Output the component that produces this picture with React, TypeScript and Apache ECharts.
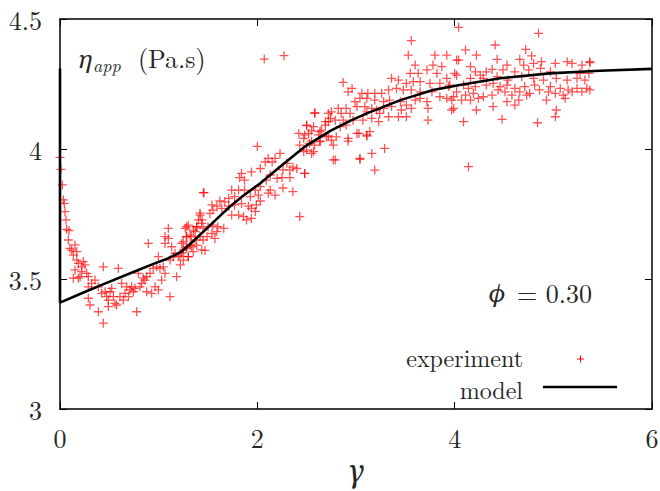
import React, { useEffect, useRef } from "react";
import * as echarts from "echarts";

const xTicks = [0, 2, 4, 6];
const yTicks = [3, 3.5, 4, 4.5];

const modelX = [0, 0, 0.25, 0.46, 0.7, 0.96, 1.1, 1.23, 1.35, 1.47, 1.6, 1.72, 1.85, 2.03, 2.23, 2.48, 2.74, 2.95, 3.11, 3.45, 3.78, 4.05, 4.46, 4.96, 5.47, 6];
const modelY = [4.31, 3.409, 3.45, 3.483, 3.52, 3.56, 3.58, 3.605, 3.645, 3.688, 3.735, 3.778, 3.818, 3.868, 3.932, 4.009, 4.07, 4.11, 4.137, 4.188, 4.227, 4.246, 4.272, 4.291, 4.301, 4.308];

const expEarly: [number, number][] = [
  [0.0, 3.968], [0.01, 3.922], [0.024, 3.862], [0.034, 3.804], [0.044, 3.791], [0.05, 3.759], [0.061, 3.727],
  [0.068, 3.691], [0.091, 3.686], [0.085, 3.65], [0.101, 3.618], [0.118, 3.611], [0.135, 3.592], [0.152, 3.631],
  [0.169, 3.605], [0.169, 3.573], [0.186, 3.56], [0.236, 3.567], [0.22, 3.547], [0.253, 3.554], [0.152, 3.535],
  [0.22, 3.528], [0.135, 3.503], [0.203, 3.509], [0.186, 3.503], [0.27, 3.522], [0.287, 3.509], [0.287, 3.47],
  [0.321, 3.483], [0.355, 3.496], [0.388, 3.47], [0.422, 3.445], [0.439, 3.547], [0.456, 3.451], [0.473, 3.432],
  [0.49, 3.419], [0.507, 3.451], [0.524, 3.464], [0.541, 3.432], [0.49, 3.394], [0.557, 3.406], [0.574, 3.4],
  [0.591, 3.541], [0.608, 3.432], [0.625, 3.483], [0.642, 3.419], [0.659, 3.445], [0.676, 3.47], [0.693, 3.432],
  [0.709, 3.458], [0.726, 3.47], [0.743, 3.451], [0.76, 3.464], [0.777, 3.374], [0.794, 3.522], [0.811, 3.47],
  [0.828, 3.483], [0.845, 3.503], [0.861, 3.496], [0.878, 3.509], [0.878, 3.451], [0.895, 3.637], [0.912, 3.522],
  [0.929, 3.445], [0.946, 3.541], [0.963, 3.47], [0.98, 3.547], [0.997, 3.458], [0.997, 3.586], [1.013, 3.541],
  [1.03, 3.496], [1.047, 3.547], [1.064, 3.522], [1.064, 3.637], [1.064, 3.663], [1.098, 3.695], [1.098, 3.656],
  [1.115, 3.573], [1.115, 3.432], [1.132, 3.624], [1.149, 3.586], [1.166, 3.599], [1.182, 3.509], [1.199, 3.586],
  [1.216, 3.592], [1.233, 3.637], [1.25, 3.612], [1.284, 3.663], [1.284, 3.701], [1.284, 3.624], [1.3, 3.586],
  [1.318, 3.669], [1.335, 3.624], [1.352, 3.688], [1.368, 3.65], [1.385, 3.701], [1.402, 3.727], [1.419, 3.753],
  [1.436, 3.714], [1.436, 3.612], [1.453, 3.832], [0.439, 3.33], [0.389, 3.374], [0.287, 3.426], [0.304, 3.4],
];

const expMid: [number, number][] = [
  [1.22, 3.554], [1.25, 3.573], [1.3, 3.586], [1.23, 3.6], [1.28, 3.618], [1.35, 3.605], [1.32, 3.63], [1.385, 3.63],
  [1.47, 3.61], [1.25, 3.644], [1.28, 3.663], [1.33, 3.663], [1.42, 3.663], [1.45, 3.65], [1.49, 3.663], [1.57, 3.656],
  [1.54, 3.675], [1.59, 3.682], [1.37, 3.682], [1.27, 3.695], [1.45, 3.695], [1.5, 3.701], [1.55, 3.707], [1.6, 3.701],
  [1.66, 3.695], [1.3, 3.707], [1.385, 3.701], [1.44, 3.727], [1.42, 3.746], [1.52, 3.752], [1.55, 3.765], [1.59, 3.78],
  [1.54, 3.785], [1.46, 3.832], [1.64, 3.772], [1.71, 3.78], [1.77, 3.785], [1.84, 3.79], [1.91, 3.78], [1.94, 3.772],
  [1.74, 3.746], [1.81, 3.746], [1.86, 3.74], [1.89, 3.727], [1.94, 3.733], [1.98, 3.76], [1.99, 3.785], [2.03, 3.8],
  [1.62, 3.8], [1.67, 3.797], [1.71, 3.81], [1.77, 3.817], [1.74, 3.842], [1.81, 3.842], [1.87, 3.842], [1.93, 3.817],
  [1.98, 3.842], [2.01, 3.823], [2.03, 3.855], [2.11, 3.83], [2.13, 3.842], [2.18, 3.823], [2.26, 3.85], [2.36, 3.836],
  [1.82, 3.89], [1.84, 3.906], [1.87, 3.88], [1.94, 3.912], [2.03, 3.925], [2.09, 3.88], [2.13, 3.9], [2.2, 3.887],
  [2.25, 3.89], [2.33, 3.89], [2.48, 3.906], [2.26, 3.92], [2.33, 3.92], [2.4, 3.925], [2.36, 3.93], [2.3, 3.945],
  [2.08, 3.95], [2.15, 3.95], [2.11, 3.964], [2.18, 3.964], [2.23, 3.983], [2.0, 4.01], [2.43, 3.74],
  [2.5, 3.996], [2.57, 3.99], [2.43, 4.015], [2.55, 4.03], [2.64, 4.03], [2.42, 4.06], [2.48, 4.054], [2.55, 4.07],
  [2.635, 4.067], [2.72, 4.05], [2.69, 4.105], [2.5, 4.09], [2.584, 4.14], [2.72, 4.137], [2.07, 4.346], [2.27, 4.359],
];

const expLate: [number, number][] = [
  [2.47, 3.99], [2.55, 3.983], [2.48, 3.906], [2.47, 4.041], [2.53, 4.022], [2.58, 4.015], [2.63, 4.028], [2.52, 4.06],
  [2.62, 4.054], [2.7, 4.047], [2.75, 4.034], [2.8, 4.047], [2.92, 4.041], [2.77, 4.015], [2.79, 3.958], [2.77, 3.958],
  [2.65, 4.073], [2.69, 4.092], [2.57, 4.086], [2.5, 4.092], [2.72, 4.105], [2.74, 4.118], [2.79, 4.111], [2.75, 4.143],
  [2.58, 4.137], [2.84, 4.086], [2.87, 4.111], [2.9, 4.092], [2.97, 4.111], [3.01, 4.06], [3.03, 4.06], [3.11, 4.054],
  [3.11, 4.05], [3.14, 4.067], [3.07, 4.111], [3.04, 3.964], [3.04, 3.96], [3.16, 3.983], [3.29, 4.002], [3.19, 3.919],
  [2.92, 4.03], [2.85, 4.137], [2.94, 4.137], [2.82, 4.156], [2.9, 4.156], [3.01, 4.163], [3.09, 4.163], [3.16, 4.156],
  [3.21, 4.15], [3.28, 4.156], [3.36, 4.163], [3.46, 4.15], [3.56, 4.156], [3.73, 4.156], [3.97, 4.15], [3.11, 4.143],
  [3.16, 4.118], [3.24, 4.137], [3.33, 4.124], [3.43, 4.124], [3.51, 4.124], [3.73, 4.111], [3.23, 4.105],
  [2.99, 4.182], [3.28, 4.182], [3.34, 4.188], [3.45, 4.182], [3.51, 4.169], [3.6, 4.188], [3.72, 4.182], [3.65, 4.195],
  [3.04, 4.195], [3.11, 4.195], [3.19, 4.188], [3.06, 4.214], [3.12, 4.214], [3.19, 4.214], [3.26, 4.214], [2.92, 4.22],
  [2.96, 4.233], [2.87, 4.256], [3.33, 4.227], [3.41, 4.233], [3.48, 4.227], [3.56, 4.227], [3.65, 4.22], [3.77, 4.22],
  [3.85, 4.201], [3.92, 4.195], [3.97, 4.188], [3.94, 4.24], [3.51, 4.252], [3.58, 4.259], [3.65, 4.259], [3.75, 4.252],
  [3.85, 4.252], [3.36, 4.272], [3.43, 4.265], [3.92, 4.272], [4.0, 4.291], [3.55, 4.291], [3.63, 4.291], [3.82, 4.291],
  [3.72, 4.304], [3.6, 4.323], [3.78, 4.323], [3.87, 4.317], [4.02, 4.342], [3.53, 4.361], [3.8, 4.361], [3.92, 4.361],
  [3.56, 4.417], [4.04, 4.468], [4.85, 4.445], [4.11, 4.381], [4.41, 4.4], [4.22, 4.361], [4.72, 4.383],
  [4.04, 4.342], [4.43, 4.345], [4.66, 4.345], [4.78, 4.358], [4.16, 4.317], [4.53, 4.323], [4.7, 4.323], [4.8, 4.329],
  [4.88, 4.336], [5.02, 4.329], [5.14, 4.336], [5.19, 4.329], [5.29, 4.323], [5.37, 4.332], [5.37, 4.336], [4.21, 4.297],
  [4.32, 4.297], [4.38, 4.306], [4.49, 4.304], [4.61, 4.297], [4.75, 4.304], [4.87, 4.31], [4.97, 4.297], [5.27, 4.291],
  [5.36, 4.291], [4.02, 4.284], [4.16, 4.272], [4.26, 4.284], [4.29, 4.272], [4.43, 4.278], [4.54, 4.265], [4.68, 4.278],
  [4.8, 4.272], [4.9, 4.265], [5.03, 4.272], [5.14, 4.265], [5.24, 4.272], [5.32, 4.265], [3.95, 4.246], [4.09, 4.246],
  [4.14, 4.233], [4.21, 4.24], [4.32, 4.246], [4.39, 4.252], [4.46, 4.24], [4.53, 4.246], [4.61, 4.233], [4.71, 4.24],
  [4.81, 4.246], [4.86, 4.227], [4.97, 4.24], [5.07, 4.233], [5.15, 4.227], [5.24, 4.233], [5.34, 4.233], [5.37, 4.227],
  [4.02, 4.22], [4.11, 4.207], [4.19, 4.214], [4.29, 4.201], [4.38, 4.207], [4.44, 4.227], [4.51, 4.22], [4.58, 4.207],
  [4.66, 4.22], [4.76, 4.214], [4.95, 4.22], [5.02, 4.214], [5.1, 4.207], [5.19, 4.22], [5.29, 4.22], [3.99, 4.201],
  [4.07, 4.188], [4.16, 4.188], [4.24, 4.195], [4.65, 4.188], [4.73, 4.207], [4.93, 4.188], [5.12, 4.195], [3.99, 4.156],
  [4.22, 4.15], [4.39, 4.163], [4.53, 4.182], [4.61, 4.169], [5.03, 4.15], [5.02, 4.124], [4.09, 4.105], [4.48, 4.114],
  [4.84, 4.101], [4.14, 3.932],
];

const W = 660;
const H = 491;

export default function App() {
  const ref = useRef<HTMLDivElement>(null);
  useEffect(() => {
    if (!ref.current) return;
    const chart = echarts.init(ref.current, undefined, { renderer: "svg", width: W, height: H });
    const font = "'Latin Modern Roman', 'DejaVu Serif', serif";
    const greek = "'Noto Serif', 'DejaVu Serif', serif";
    const txt = "#262626";
    const plus = "path://M6,0h2v6h6v2h-6v6h-2v-6h-6v-2h6z";
    const experiment = [...expEarly, ...expMid, ...expLate];
    const model = modelX.map((x, i) => [x, modelY[i]]);
    const axisBase = { min: 0, max: 6, interval: 2 };
    const yBase = { min: yTicks[0], max: yTicks[yTicks.length - 1], interval: 0.5 };
    const lineStyle = { color: "#000", width: 1.5 };
    const tick = { show: true, inside: true, length: 7, lineStyle: { color: "#000", width: 1 } };
    const mid = { textVerticalAlign: "middle", verticalAlign: "middle" };
    chart.setOption({
      animation: false,
      backgroundColor: "#fff",
      grid: { left: 60, top: 19, right: 8, bottom: 82, outerBoundsMode: "none" },
      xAxis: [
        {
          type: "value",
          ...axisBase,
          position: "bottom",
          axisLine: { show: true, onZero: false, lineStyle },
          axisTick: tick,
          axisLabel: {
            margin: 15,
            fontFamily: font,
            fontSize: 26,
            color: txt,
            formatter: (v: number) => (xTicks.includes(v) ? String(v) : ""),
          },
          splitLine: { show: false },
        },
        {
          type: "value",
          ...axisBase,
          position: "top",
          axisLine: { show: true, onZero: false, lineStyle },
          axisTick: tick,
          axisLabel: { show: false },
          splitLine: { show: false },
        },
      ],
      yAxis: [
        {
          type: "value",
          ...yBase,
          position: "left",
          axisLine: { show: true, onZero: false, lineStyle },
          axisTick: tick,
          axisLabel: {
            margin: 18,
            fontFamily: font,
            fontSize: 26,
            color: txt,
            formatter: (v: number) => String(v),
          },
          splitLine: { show: false },
        },
        {
          type: "value",
          ...yBase,
          position: "right",
          axisLine: { show: true, onZero: false, lineStyle },
          axisTick: tick,
          axisLabel: { show: false },
          splitLine: { show: false },
        },
      ],
      series: [
        {
          name: "experiment",
          type: "scatter",
          data: experiment,
          symbol: plus,
          symbolSize: 9,
          itemStyle: { color: "rgba(255,0,0,0.85)" },
          z: 2,
        },
        {
          name: "model",
          type: "line",
          data: model,
          showSymbol: false,
          symbol: "none",
          lineStyle: { color: "#000", width: 2.6 },
          z: 3,
        },
      ],
      graphic: [
        { type: "text", x: 78, y: 58, style: { text: "η", font: `italic 400 24px ${greek}`, fill: txt, ...mid } },
        { type: "text", x: 93, y: 64, style: { text: "app", font: `italic 18px ${font}`, fill: txt, ...mid } },
        { type: "text", x: 138, y: 57, style: { text: "(Pa.s)", font: `26px ${font}`, fill: txt, ...mid } },
        { type: "text", x: 489, y: 292, style: { text: "ϕ", font: `italic 400 24px ${greek}`, fill: txt, ...mid } },
        {
          type: "text",
          x: 592,
          y: 292,
          style: { text: "= 0.30", font: `26px ${font}`, fill: txt, textAlign: "right", align: "right", ...mid },
        },
        {
          type: "text",
          x: 523,
          y: 357,
          style: { text: "experiment", font: `24px ${font}`, fill: txt, textAlign: "right", align: "right", ...mid },
        },
        {
          type: "text",
          x: 523,
          y: 389,
          style: { text: "model", font: `24px ${font}`, fill: txt, textAlign: "right", align: "right", ...mid },
        },
        { type: "line", shape: { x1: 577, y1: 359, x2: 584, y2: 359 }, style: { stroke: "#f00", lineWidth: 1 } },
        { type: "line", shape: { x1: 580.5, y1: 355.5, x2: 580.5, y2: 362.5 }, style: { stroke: "#f00", lineWidth: 1 } },
        { type: "line", shape: { x1: 543, y1: 387, x2: 617, y2: 387 }, style: { stroke: "#000", lineWidth: 2.6 } },
        {
          type: "text",
          x: 356,
          y: 470,
          style: { text: "γ", font: `italic 400 30px ${greek}`, fill: txt, textAlign: "center", align: "center", ...mid },
        },
      ],
    });
    return () => chart.dispose();
  }, []);
  return <div ref={ref} style={{ position: "fixed", left: 0, top: 0, width: W, height: H, background: "#fff" }} />;
}
